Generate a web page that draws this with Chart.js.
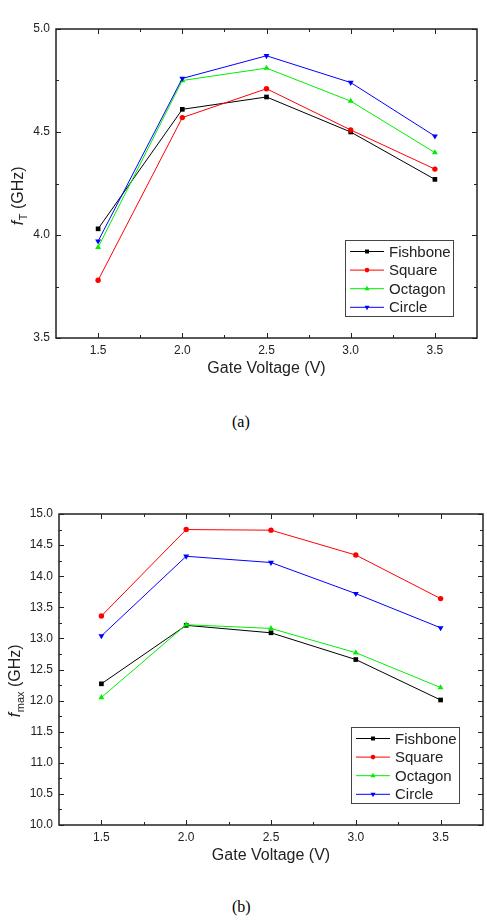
<!DOCTYPE html>
<html>
<head>
<meta charset="utf-8">
<script src="https://cdn.jsdelivr.net/npm/chart.js@4.4.1/dist/chart.umd.min.js"></script>
<style>
  body { margin: 0; background: #fff; width: 487px; height: 922px; position: relative; overflow: hidden; }
  .wrap { position: absolute; left: 0; width: 487px; }
  .cap { position: absolute; font-family: "Liberation Serif", "Times New Roman", serif; font-size: 16px; color: #000; }
</style>
</head>
<body>
<div class="wrap" style="top:0"><canvas id="chartA" width="487" height="380"></canvas></div>
<div class="cap" style="left:232px;top:413px">(a)</div>
<div class="wrap" style="top:480px"><canvas id="chartB" width="487" height="400"></canvas></div>
<div class="cap" style="left:232px;top:898px">(b)</div>
<script>
// data
const voltage = [1.5, 2.0, 2.5, 3.0, 3.5];
const seriesNames = ["Fishbone", "Square", "Octagon", "Circle"];

// (a) fT in GHz
const ftFishbone = [4.03, 4.61, 4.67, 4.50, 4.27];
const ftSquare   = [3.78, 4.57, 4.71, 4.51, 4.32];
const ftOctagon  = [3.94, 4.75, 4.81, 4.65, 4.40];
const ftCircle   = [3.97, 4.76, 4.87, 4.74, 4.48];

// (b) fmax in GHz
const fmaxFishbone = [12.27, 13.21, 13.09, 12.66, 12.01];
const fmaxSquare   = [13.36, 14.75, 14.74, 14.34, 13.64];
const fmaxOctagon  = [12.05, 13.22, 13.16, 12.77, 12.21];
const fmaxCircle   = [13.04, 14.32, 14.22, 13.72, 13.17];

// tick values
const xMajor = [1.5, 2.0, 2.5, 3.0, 3.5];
const xMinor = [1.75, 2.25, 2.75, 3.25];
const yMajorA = [3.5, 4.0, 4.5, 5.0];
const yMinorA = [3.75, 4.25, 4.75];
const yMajorB = [10.0, 10.5, 11.0, 11.5, 12.0, 12.5, 13.0, 13.5, 14.0, 14.5, 15.0];
const yMinorB = [10.25, 10.75, 11.25, 11.75, 12.25, 12.75, 13.25, 13.75, 14.25, 14.75];

// styles
const colors = ["#000000", "#ff0000", "#00ee00", "#0000ff"];
const markers = ["rect", "circle", "triangle", "triangle"];
const markerRot = [0, 0, 0, 180];
const markerSize = [3.3, 2.7, 3.4, 3.4];

const FONT = '"Liberation Sans", Arial, Helvetica, sans-serif';
const INK = "#222";
Chart.defaults.font.family = FONT;
Chart.defaults.color = INK;

function makeSets(values) {
    return values.map((vals, i) => ({
        label: seriesNames[i],
        data: voltage.map((v, j) => ({ x: v, y: vals[j] })),
        borderColor: colors[i],
        backgroundColor: colors[i],
        borderWidth: 1,
        pointStyle: markers[i],
        pointRotation: markerRot[i],
        pointRadius: markerSize[i],
        pointBorderWidth: 0,
        order: 3 - i,
        tension: 0
    }));
}

// frame, inward ticks, legend box, y title with subscript
const decor = {
    id: "decor",
    afterDraw(chart, args, o) {
        const ctx = chart.ctx;
        const { left, right, top, bottom } = chart.chartArea;
        const xs = chart.scales.x, ys = chart.scales.y;
        ctx.save();
        ctx.strokeStyle = INK;
        ctx.lineWidth = 1;
        const seg = (x1, y1, x2, y2) => { ctx.beginPath(); ctx.moveTo(x1, y1); ctx.lineTo(x2, y2); ctx.stroke(); };
        const xt = (vals, len) => vals.forEach(v => {
            const p = Math.round(xs.getPixelForValue(v)) + 0.5;
            seg(p, bottom, p, bottom - len);
            seg(p, top, p, top + len);
        });
        const yt = (vals, len) => vals.forEach(v => {
            const p = Math.round(ys.getPixelForValue(v)) + 0.5;
            seg(left, p, left + len, p);
            seg(right, p, right - len, p);
        });
        xt(o.xMajor, 5); xt(o.xMinor, 3);
        yt(o.yMajor, 5); yt(o.yMinor, 3);
        ctx.lineWidth = 1.5;
        ctx.strokeRect(left, top, right - left, bottom - top);

        // legend
        const bw = 108, bh = 76;
        const bx = right - o.legendRight - bw, by = bottom - o.legendBottom - bh;
        ctx.fillStyle = "#fff";
        ctx.fillRect(bx, by, bw, bh);
        ctx.lineWidth = 1;
        ctx.strokeStyle = "#444";
        ctx.strokeRect(bx + 0.5, by + 0.5, bw, bh);
        ctx.font = "15px " + FONT;
        ctx.textBaseline = "middle";
        ctx.textAlign = "left";
        chart.data.datasets.forEach((ds, i) => {
            const yy = by + 11.5 + i * 18.6;
            ctx.strokeStyle = ds.borderColor;
            seg(bx + 5, yy, bx + 39, yy);
            ctx.fillStyle = ds.backgroundColor;
            Chart.helpers.drawPoint(ctx, { pointStyle: ds.pointStyle, rotation: ds.pointRotation, radius: ds.pointRadius * 0.85, borderWidth: 0 }, bx + 22, yy);
            ctx.fillStyle = INK;
            ctx.fillText(ds.label, bx + 44, yy + 1);
        });

        // rotated y title: italic f + subscript + (GHz)
        ctx.translate(o.titleX, o.titleY);
        ctx.rotate(-Math.PI / 2);
        const fIt = "italic 16px " + FONT, fMain = "16px " + FONT, fSub = "11px " + FONT;
        ctx.font = fIt; const w1 = ctx.measureText("f").width;
        ctx.font = fSub; const w2 = ctx.measureText(o.sub).width;
        ctx.font = fMain; const w3 = ctx.measureText(" (GHz)").width;
        let x = -(w1 + w2 + w3) / 2;
        ctx.textBaseline = "alphabetic";
        ctx.fillStyle = INK;
        ctx.font = fIt; ctx.fillText("f", x, 0); x += w1 + 0.5;
        ctx.font = fSub; ctx.fillText(o.sub, x, 4); x += w2;
        ctx.font = fMain; ctx.fillText(" (GHz)", x, 0);
        ctx.restore();
    }
};

function makeChart(id, sets, yMin, yMax, yMajor, yMinor, lay) {
    return new Chart(document.getElementById(id), {
        type: "line",
        data: { datasets: sets },
        options: {
            responsive: false,
            animation: false,
            layout: { padding: { left: 0, top: lay.padTop, right: lay.padRight, bottom: 0 } },
            plugins: {
                legend: { display: false },
                tooltip: { enabled: false },
                decor: {
                    xMajor: xMajor, xMinor: xMinor, yMajor: yMajor, yMinor: yMinor,
                    legendRight: lay.legendRight, legendBottom: lay.legendBottom,
                    titleX: lay.titleX, titleY: lay.titleY, sub: lay.sub
                }
            },
            scales: {
                x: {
                    type: "linear",
                    min: 1.25, max: 3.75,
                    afterBuildTicks: s => { s.ticks = xMajor.map(v => ({ value: v })); },
                    afterFit: s => { s.height = lay.xHeight; },
                    grid: { display: false, drawTicks: false },
                    border: { display: false },
                    ticks: { padding: 5, font: { size: 12 }, color: INK, callback: v => v.toFixed(1) },
                    title: { display: true, text: "Gate Voltage (V)", font: { size: 16 }, color: INK, padding: { top: 0, bottom: lay.titlePad } }
                },
                y: {
                    min: yMin, max: yMax,
                    afterBuildTicks: s => { s.ticks = yMajor.map(v => ({ value: v })); },
                    afterFit: s => { s.width = lay.yWidth; },
                    grid: { display: false, drawTicks: false },
                    border: { display: false },
                    ticks: { padding: 6, font: { size: 12 }, color: INK, callback: v => v.toFixed(1) }
                }
            }
        },
        plugins: [decor]
    });
}

makeChart("chartA", makeSets([ftFishbone, ftSquare, ftOctagon, ftCircle]), 3.5, 5.0, yMajorA, yMinorA, {
    padTop: 29, padRight: 10, xHeight: 42, yWidth: 56, titlePad: 1.4,
    legendRight: 24, legendBottom: 22, titleX: 23, titleY: 196, sub: "T"
});

makeChart("chartB", makeSets([fmaxFishbone, fmaxSquare, fmaxOctagon, fmaxCircle]), 10.0, 15.0, yMajorB, yMinorB, {
    padTop: 34, padRight: 4, xHeight: 55, yWidth: 59, titlePad: 14.4,
    legendRight: 24, legendBottom: 22, titleX: 20, titleY: 201, sub: "max"
});
</script>
</body>
</html>
